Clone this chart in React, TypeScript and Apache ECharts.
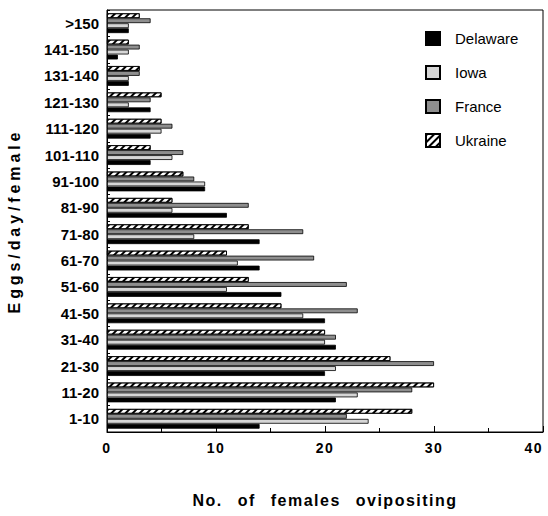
import React, { useEffect, useRef } from "react";
import * as echarts from "echarts";

const categories = ["1-10", "11-20", "21-30", "31-40", "41-50", "51-60", "61-70", "71-80", "81-90", "91-100", "101-110", "111-120", "121-130", "131-140", "141-150", ">150"];
const delaware = [14, 21, 20, 21, 20, 16, 14, 14, 11, 9, 4, 4, 4, 2, 1, 2];
const iowa = [24, 23, 21, 20, 18, 11, 12, 8, 6, 9, 6, 5, 2, 2, 2, 2];
const france = [22, 28, 30, 21, 23, 22, 19, 18, 13, 8, 7, 6, 4, 3, 3, 4];
const ukraine = [28, 30, 26, 20, 16, 13, 11, 13, 6, 7, 4, 5, 5, 3, 2, 3];
const xTicks = { min: 0, max: 40, interval: 10 };

const FONT = "'Liberation Sans', Arial, Helvetica, sans-serif";

export default function App() {
  const ref = useRef<HTMLDivElement>(null);
  useEffect(() => {
    if (!ref.current) return;
    const chart = echarts.init(ref.current, null, { renderer: "svg" });
    const border = { borderColor: "#000", borderWidth: 0.8 };
    chart.setOption({
      animation: false,
      backgroundColor: "#fff",
      textStyle: { fontFamily: FONT },
      grid: {
        left: 107,
        right: 5,
        top: 10,
        bottom: 84,
        show: true,
        borderColor: "#000",
        borderWidth: 1,
        containLabel: false,
        outerBoundsMode: "none",
      },
      legend: {
        orient: "vertical",
        left: 425,
        top: 31,
        padding: 0,
        icon: "rect",
        itemWidth: 14,
        itemHeight: 13,
        itemGap: 19,
        textStyle: { fontSize: 15, color: "#000", fontFamily: FONT, padding: [0, 0, 0, 10] },
        data: ["Delaware", "Iowa", "France", "Ukraine"],
      },
      xAxis: {
        type: "value",
        min: xTicks.min,
        max: xTicks.max,
        interval: xTicks.interval,
        name: "No. of females ovipositing",
        nameLocation: "middle",
        nameGap: 60,
        nameTextStyle: { fontSize: 16, fontWeight: "bold", color: "#000", fontFamily: FONT },
        axisLine: { show: true, lineStyle: { color: "#000", width: 1 } },
        axisTick: { show: true, inside: true, length: 6, lineStyle: { color: "#000" } },
        minorTick: { show: true, splitNumber: 2, length: 4, lineStyle: { color: "#000" } },
        splitLine: { show: false },
        axisLabel: { fontSize: 14, fontWeight: "bold", color: "#000", margin: 9, fontFamily: FONT, alignMaxLabel: "right" },
      },
      yAxis: {
        type: "category",
        data: categories,
        name: "Eggs/day/female",
        nameLocation: "middle",
        nameGap: 85,
        nameTextStyle: { fontSize: 16, fontWeight: "bold", color: "#000", fontFamily: FONT },
        axisLine: { show: true, lineStyle: { color: "#000", width: 1 } },
        axisTick: { show: true, inside: true, length: 3, lineStyle: { color: "#000" } },
        axisLabel: { fontSize: 15, fontWeight: "bold", color: "#000", margin: 8, fontFamily: FONT },
      },
      series: [
        {
          name: "Ukraine",
          type: "bar",
          data: ukraine,
          barCategoryGap: "25%",
          barGap: "4%",
          itemStyle: {
            color: "#fff",
            ...border,
            decal: {
              symbol: "rect",
              symbolSize: 1,
              dashArrayX: [[1, 0]],
              dashArrayY: [1.3, 2.2],
              rotation: -Math.PI / 4,
              color: "#000",
            },
          },
        },
        { name: "France", type: "bar", data: france, itemStyle: { color: "#8e8e8e", ...border } },
        { name: "Iowa", type: "bar", data: iowa, itemStyle: { color: "#d6d6d6", ...border } },
        { name: "Delaware", type: "bar", data: delaware, itemStyle: { color: "#000", ...border } },
      ],
    });
    const texts = ref.current.querySelectorAll("text");
    texts.forEach((t) => {
      const s = t.textContent || "";
      if (s === "Eggs/day/female") {
        t.style.letterSpacing = "3.9px";
      } else if (s === "No. of females ovipositing") {
        t.style.letterSpacing = "1.5px";
        t.style.wordSpacing = "9px";
      } else if (/^\d+$/.test(s)) {
        t.style.letterSpacing = "1.5px";
      }
    });
    return () => chart.dispose();
  }, []);
  return <div ref={ref} style={{ position: "fixed", left: 0, top: 0, width: 548, height: 516 }} />;
}
